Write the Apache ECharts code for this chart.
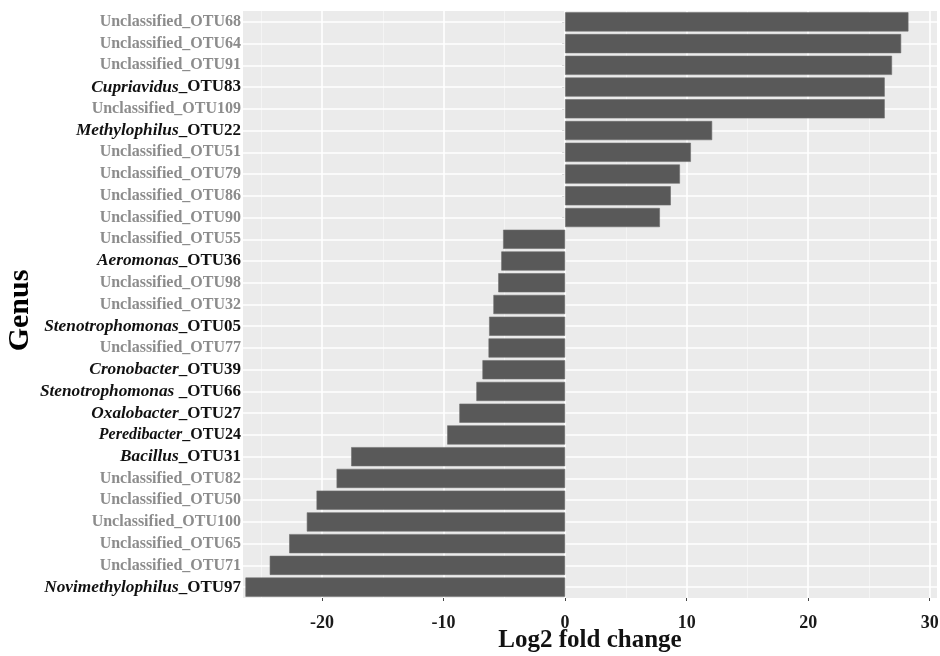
<!DOCTYPE html>
<html>
<head>
<meta charset="utf-8">
<script src="https://cdn.jsdelivr.net/npm/echarts@6/dist/echarts.min.js"></script>
<style>html,body{margin:0;padding:0;background:#fff}#c{width:940px;height:656px}</style>
</head>
<body>
<div id="c"></div>
<script>
const genera = ['Unclassified','Unclassified','Unclassified','Cupriavidus','Unclassified','Methylophilus','Unclassified','Unclassified','Unclassified','Unclassified','Unclassified','Aeromonas','Unclassified','Unclassified','Stenotrophomonas','Unclassified','Cronobacter','Stenotrophomonas ','Oxalobacter','Peredibacter','Bacillus','Unclassified','Unclassified','Unclassified','Unclassified','Unclassified','Novimethylophilus'];
const otus = ['OTU68','OTU64','OTU91','OTU83','OTU109','OTU22','OTU51','OTU79','OTU86','OTU90','OTU55','OTU36','OTU98','OTU32','OTU05','OTU77','OTU39','OTU66','OTU27','OTU24','OTU31','OTU82','OTU50','OTU100','OTU65','OTU71','OTU97'];
const log2fc = [28.25,27.65,26.9,26.3,26.3,12.1,10.35,9.45,8.7,7.8,-5.1,-5.25,-5.5,-5.9,-6.25,-6.3,-6.8,-7.3,-8.7,-9.7,-17.6,-18.8,-20.45,-21.25,-22.7,-24.3,-26.3];
const majorTicks = [-20,-10,0,10,20,30];
const minorTicks = [-25,-15,-5,5,15,25];
const smallLabelIdx = [19];

const categories = genera.map((g,i)=>g+'_'+otus[i]);
const serif = '"Liberation Serif","Times New Roman",serif';

const chart = echarts.init(document.getElementById('c'), null, {renderer:'canvas'});
chart.setOption({
  animation:false,
  backgroundColor:'#ffffff',
  grid:{left:243,right:3,top:11,bottom:58,show:true,backgroundColor:'#ebebeb',borderWidth:0,outerBoundsMode:'none',containLabel:false},
  xAxis:{
    type:'value',min:-26.5,max:30.6,
    name:'Log2 fold change',nameLocation:'middle',nameGap:30,nameMoveOverlap:false,
    nameTextStyle:{fontFamily:serif,fontWeight:'bold',fontSize:25,color:'#111',verticalAlign:'top'},
    axisLine:{show:false},
    splitLine:{show:false},
    axisTick:{show:true,customValues:majorTicks,length:3,lineStyle:{color:'#444',width:1}},
    axisLabel:{customValues:majorTicks,fontFamily:serif,fontWeight:'bold',fontSize:18,color:'#1a1a1a',margin:16}
  },
  yAxis:{
    type:'category',data:categories,inverse:true,
    name:'Genus',nameLocation:'middle',nameGap:223,nameRotate:90,nameMoveOverlap:false,
    nameTextStyle:{fontFamily:serif,fontWeight:'bold',fontSize:30,color:'#000',padding:[0,12,0,0],verticalAlign:'middle'},
    axisLine:{show:false},
    splitLine:{show:false},
    axisTick:{show:true,alignWithLabel:true,length:3,lineStyle:{color:'#555',width:1}},
    axisLabel:{
      margin:2,
      formatter:function(v,i){
        const g = genera[i], o = otus[i];
        const small = smallLabelIdx.indexOf(i)>=0;
        if(g==='Unclassified') return '{u|'+g+'_'+o+'}';
        return small ? '{gs|'+g+'}{os|_'+o+'}' : '{g|'+g+'}{o|_'+o+'}';
      },
      rich:{
        u:{fontFamily:serif,fontWeight:'bold',fontSize:16,color:'#8c8c8c'},
        g:{fontFamily:serif,fontWeight:'bold',fontStyle:'italic',fontSize:17.3,color:'#111'},
        o:{fontFamily:serif,fontWeight:'bold',fontSize:17,color:'#111'},
        gs:{fontFamily:serif,fontWeight:'bold',fontStyle:'italic',fontSize:16,color:'#111'},
        os:{fontFamily:serif,fontWeight:'bold',fontSize:16,color:'#111'}
      }
    }
  },
  series:[
    {
      type:'line',data:[],z:1,silent:true,
      markLine:{
        z:1,silent:true,symbol:'none',label:{show:false},animation:false,
        data:[].concat(
          minorTicks.map(v=>({xAxis:v,lineStyle:{color:'#f6f6f6',width:0.8,type:'solid'}})),
          majorTicks.map(v=>({xAxis:v,lineStyle:{color:'#ffffff',width:1.6,type:'solid'}})),
          categories.map(c=>({yAxis:c,lineStyle:{color:'#ffffff',width:1.6,type:'solid'}}))
        )
      }
    },
    {
      type:'bar',data:log2fc,z:3,barCategoryGap:'12%',
      itemStyle:{color:'#595959',borderColor:'#6e6e6e',borderWidth:0.6}
    }
  ]
});
</script>
</body>
</html>
